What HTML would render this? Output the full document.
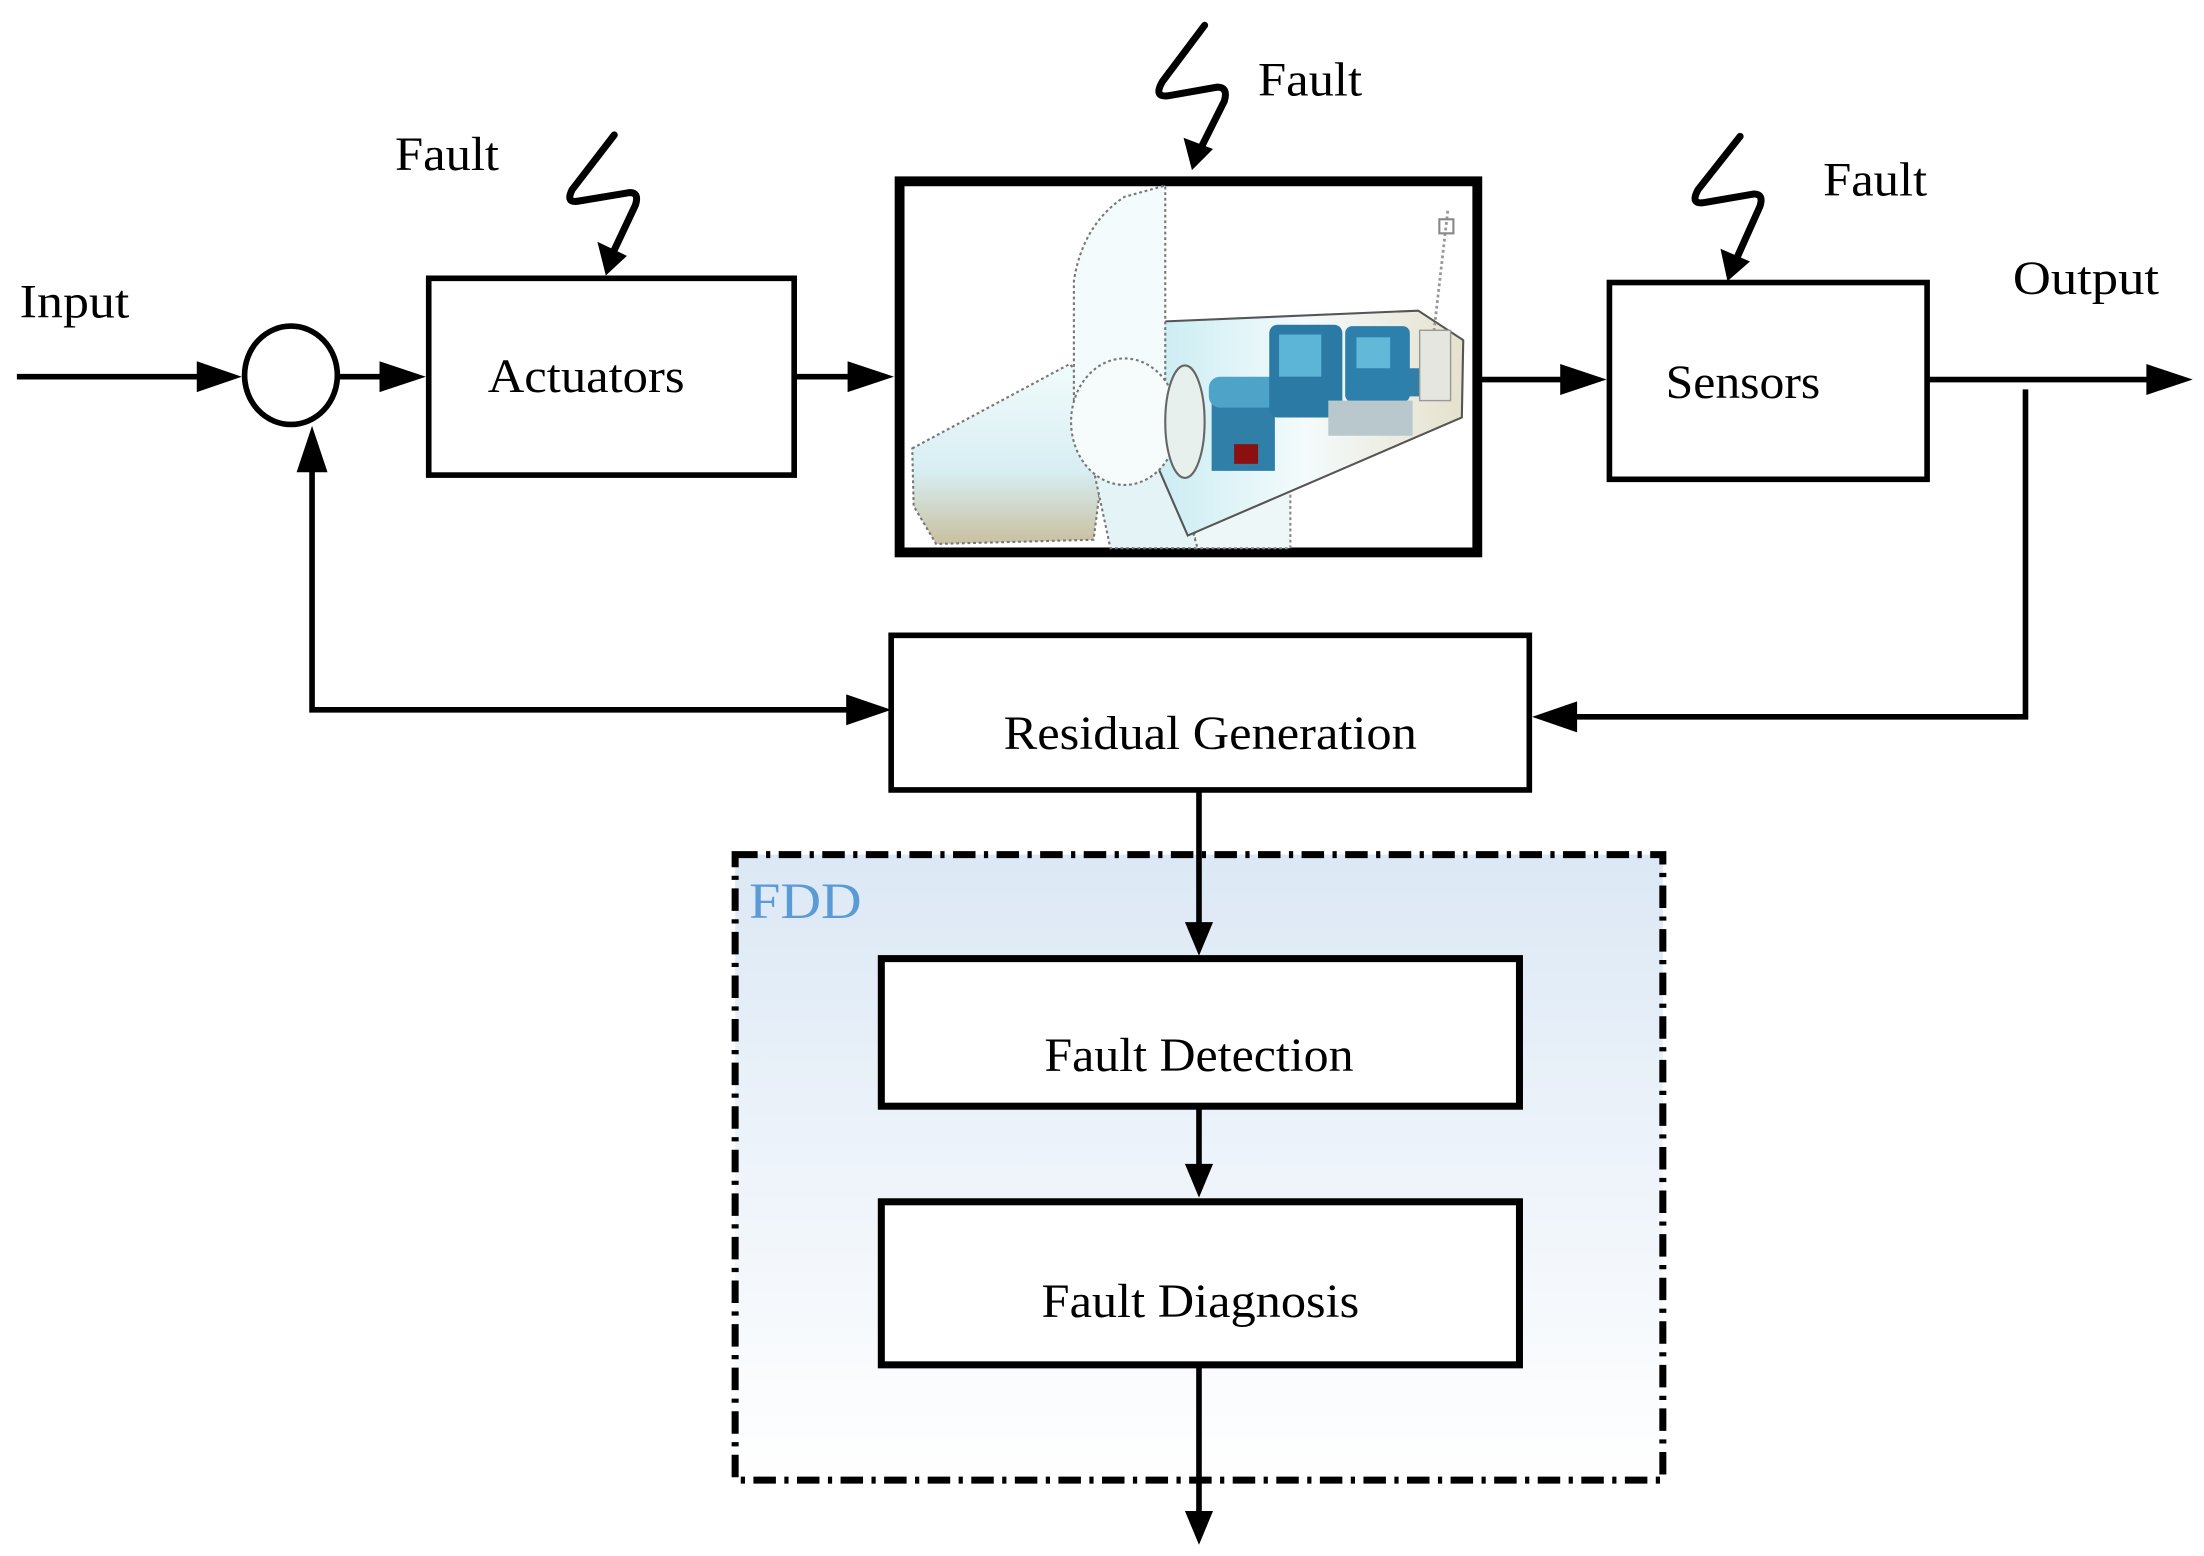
<!DOCTYPE html>
<html><head><meta charset="utf-8"><style>html,body{margin:0;padding:0;background:#fff}svg{display:block}</style></head>
<body>
<svg width="2204" height="1556" viewBox="0 0 1568 1107" xmlns="http://www.w3.org/2000/svg" font-family="Liberation Serif, serif">
<defs>
<linearGradient id="g" x1="0" y1="0" x2="0" y2="1">
<stop offset="0" stop-color="#dce8f5"/><stop offset="1" stop-color="#ffffff"/>
</linearGradient>
<linearGradient id="bl" x1="0" y1="0" x2="1" y2="0">
<stop offset="0" stop-color="#c9ecf2"/><stop offset="0.5" stop-color="#f4fbfc"/><stop offset="1" stop-color="#e6e1cc"/>
</linearGradient>
<linearGradient id="bl2" x1="0" y1="0" x2="0" y2="1">
<stop offset="0" stop-color="#f2fbfc"/><stop offset="0.6" stop-color="#d7eef2"/><stop offset="1" stop-color="#c9c0a0"/>
</linearGradient>
</defs>
<g font-size="34" fill="#000">
<!-- FDD box -->
<rect x="523" y="608" width="660" height="445" fill="url(#g)" stroke="#000" stroke-width="5" stroke-dasharray="16 6 3 6"/>
<text x="533" y="653" fill="#5b9bd5" font-size="36" textLength="80" lengthAdjust="spacingAndGlyphs">FDD</text>

<!-- labels -->
<text x="14" y="226" textLength="78" lengthAdjust="spacingAndGlyphs">Input</text>
<text x="281" y="121" textLength="74" lengthAdjust="spacingAndGlyphs">Fault</text>
<text x="895" y="68" textLength="74" lengthAdjust="spacingAndGlyphs">Fault</text>
<text x="1297" y="139" textLength="74" lengthAdjust="spacingAndGlyphs">Fault</text>
<text x="1432" y="209" textLength="104" lengthAdjust="spacingAndGlyphs">Output</text>

<!-- Input line and summer -->
<line x1="12" y1="268" x2="150" y2="268" stroke="#000" stroke-width="4"/>
<polygon points="140,257 172,268 140,279"/>
<ellipse cx="207" cy="267" rx="33" ry="35" fill="#fff" stroke="#000" stroke-width="4"/>
<line x1="240" y1="268" x2="280" y2="268" stroke="#000" stroke-width="4"/>
<polygon points="270,257 303,268 270,279"/>

<!-- Actuators -->
<rect x="305" y="198" width="260" height="140" fill="#fff" stroke="#000" stroke-width="4"/>
<text x="347" y="279" textLength="140" lengthAdjust="spacingAndGlyphs">Actuators</text>
<line x1="566" y1="268" x2="610" y2="268" stroke="#000" stroke-width="4"/>
<polygon points="603,257 636,268 603,279"/>

<!-- Turbine box -->
<rect x="640" y="129" width="411" height="264" fill="#fff" stroke="#000" stroke-width="7"/>
<g>
 <rect x="850" y="340" width="68" height="50" fill="#eef7f8" stroke="#888" stroke-width="1.5" stroke-dasharray="2 2"/>
 <polygon points="649,319 761,259 790,290 778,384 666,387 650,360" fill="url(#bl2)" stroke="#777" stroke-width="1.5" stroke-dasharray="2 2"/>
 <polygon points="775,320 835,330 852,390 790,390" fill="#e4f4f6" stroke="#777" stroke-width="1.5" stroke-dasharray="2 2"/>
 <polygon points="821,229 1009,221 1041,242 1040,297 845,381 818,319" fill="url(#bl)" stroke="#555" stroke-width="1.5"/>
 <path d="M764,285 L764,200 Q770,160 800,140 L829,132 L829,280 Q800,300 764,285 Z" fill="#f3fbfc" stroke="#777" stroke-width="1.5" stroke-dasharray="2 2"/>
 <ellipse cx="800" cy="300" rx="38" ry="45" fill="#f6fbfb" stroke="#777" stroke-width="1.5" stroke-dasharray="2 2"/>
 <ellipse cx="843" cy="300" rx="14" ry="40" fill="#e8f0ee" stroke="#666" stroke-width="1.5"/>
 <rect x="862" y="280" width="45" height="55" fill="#2f7fa8"/>
 <rect x="860" y="268" width="50" height="22" rx="8" fill="#4da3c8"/>
 <rect x="903" y="231" width="52" height="66" rx="6" fill="#2b7aa5"/>
 <rect x="910" y="238" width="30" height="30" fill="#5cb4d6"/>
 <rect x="957" y="232" width="46" height="54" rx="5" fill="#2c80ab"/>
 <rect x="965" y="240" width="24" height="22" fill="#62b8d8"/>
 <rect x="945" y="285" width="60" height="25" fill="#b8c8cc"/>
 <rect x="1000" y="262" width="16" height="20" fill="#2f7fa8"/>
 <rect x="878" y="316" width="17" height="14" fill="#8b1010"/>
 <rect x="1010" y="235" width="22" height="50" fill="#e6e6e0" stroke="#999" stroke-width="1"/>
 <line x1="1030" y1="150" x2="1020" y2="237" stroke="#999" stroke-width="2" stroke-dasharray="2 2"/>
 <rect x="1024" y="156" width="10" height="10" fill="none" stroke="#888" stroke-width="1.5"/>
</g>

<line x1="1052" y1="270" x2="1115" y2="270" stroke="#000" stroke-width="4"/>
<polygon points="1110,259 1143,270 1110,281"/>

<!-- Sensors -->
<rect x="1145" y="201" width="226" height="140" fill="#fff" stroke="#000" stroke-width="4"/>
<text x="1185" y="283" textLength="110" lengthAdjust="spacingAndGlyphs">Sensors</text>
<line x1="1371" y1="270" x2="1530" y2="270" stroke="#000" stroke-width="4"/>
<polygon points="1527,259 1560,270 1527,281"/>

<!-- feedback right -->
<polyline points="1441,277 1441,510 1110,510" fill="none" stroke="#000" stroke-width="4"/>
<polygon points="1122,499 1090,510 1122,521"/>

<!-- Residual -->
<rect x="634" y="452" width="454" height="110" fill="#fff" stroke="#000" stroke-width="4"/>
<text x="714" y="533" textLength="294" lengthAdjust="spacingAndGlyphs">Residual Generation</text>

<!-- feedback left -->
<polyline points="222,325 222,505 610,505" fill="none" stroke="#000" stroke-width="4"/>
<polygon points="602,494 634,505 602,516"/>
<polygon points="211,336 222,303 233,336"/>

<!-- down to detection -->
<line x1="853" y1="563" x2="853" y2="660" stroke="#000" stroke-width="4"/>
<polygon points="843,656 853,680 863,656"/>
<rect x="627" y="682" width="454" height="105" fill="#fff" stroke="#000" stroke-width="5"/>
<text x="743" y="762" textLength="220" lengthAdjust="spacingAndGlyphs">Fault Detection</text>

<line x1="853" y1="788" x2="853" y2="830" stroke="#000" stroke-width="4"/>
<polygon points="843,828 853,852 863,828"/>
<rect x="627" y="855" width="454" height="116" fill="#fff" stroke="#000" stroke-width="5"/>
<text x="741" y="937" textLength="226" lengthAdjust="spacingAndGlyphs">Fault Diagnosis</text>

<line x1="853" y1="972" x2="853" y2="1080" stroke="#000" stroke-width="4"/>
<polygon points="843,1075 853,1099 863,1075"/>

<!-- lightning bolts -->
<g fill="none" stroke="#000" stroke-width="5" stroke-linejoin="round" stroke-linecap="round">
 <path d="M437,96 L407,135 Q402,145 412,143 L448,137 Q455,137 452,146 L436,180"/>
 <path d="M857,18 L827,58 Q820,70 832,68 L866,62 Q874,62 871,72 L853,108"/>
 <path d="M1238,97 L1208,135 Q1202,146 1213,144 L1248,138 Q1255,138 1252,147 L1235,185"/>
</g>
<polygon points="425,172 446,182 431,196"/>
<polygon points="842,98 863,106 848,121"/>
<polygon points="1224,177 1245,186 1229,200"/>
</g>
</svg>
</body></html>
